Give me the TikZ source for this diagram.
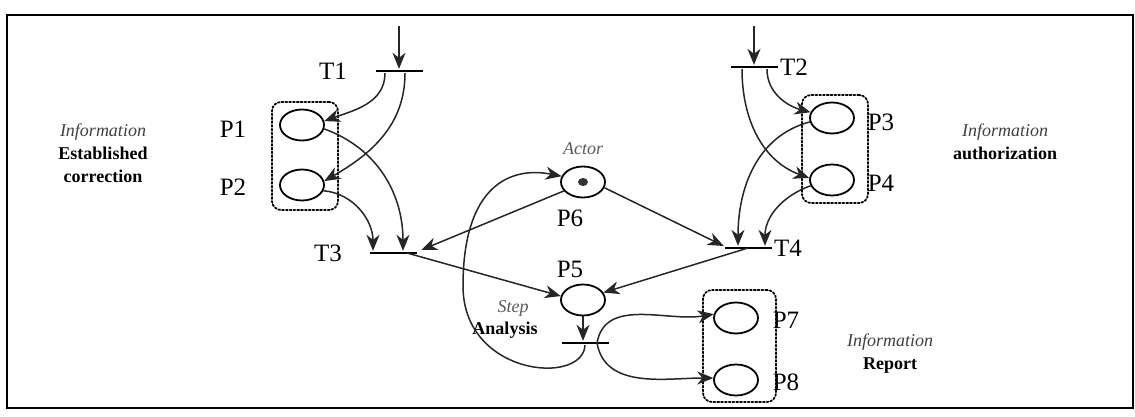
\documentclass[tikz,border=0pt]{standalone}
\usepackage{fontspec}
\setmainfont{Liberation Serif}
\usetikzlibrary{arrows.meta,shapes.geometric}

\begin{document}
\begin{tikzpicture}[x=1pt,y=1pt,line width=1.5pt]
  \tikzstyle{place}=[draw, ellipse, line width=1.8pt, minimum width=44pt, minimum height=31pt, inner sep=0pt]
  \tikzstyle{trans}=[fill, rectangle, minimum width=47pt, minimum height=2.8pt, inner sep=0pt]
  \tikzstyle{group}=[draw, dotted, line width=1.8pt, line cap=round, rounded corners=9pt, inner sep=0pt]
  \tikzstyle{lbl}=[font=\fontsize{25}{27}\selectfont, inner sep=1pt]
  \tikzstyle{note}=[font=\fontsize{18}{23}\selectfont, align=center, inner sep=1pt]
  \tikzstyle{arc}=[-{Stealth[length=16pt,width=13pt,inset=5pt]}, line width=1.5pt, draw=black!85]

  \useasboundingbox (0,0) rectangle (1135,416);
  \draw[line width=2pt] (7,8) rectangle (1133,401);

  % places
  \node[place] (p1) at (302,291) {};
  \node[place] (p2) at (302,231) {};
  \node[place] (p3) at (832,298) {};
  \node[place] (p4) at (832,236) {};
  \node[place] (p5) at (583,116) {};
  \node[place] (p6) at (583,234) {};
  \node[place] (p7) at (736,98) {};
  \node[place] (p8) at (736,36) {};
  \node[fill=black!80, ellipse, minimum width=10pt, minimum height=8pt, inner sep=0pt] (tok) at (p6) {};

  % transitions
  \node[trans] (t1) at (399,345) {};
  \node[trans] (t2) at (754,349) {};
  \node[trans] (t3) at (393,163) {};
  \node[trans] (t4) at (748,168) {};
  \node[trans] (t5) at (585,73) {};
  \coordinate (in1) at (399,390);
  \coordinate (in2) at (754,390);

  % dotted groups
  \node[group, minimum width=66pt, minimum height=108pt] (g12) at (305,260) {};
  \node[group, minimum width=66pt, minimum height=108pt] (g34) at (835,267) {};
  \node[group, minimum width=73pt, minimum height=112pt] (g78) at (739.5,70) {};

  % labels
  \node[lbl] (lt1) at (333,345) {T1};
  \node[lbl, anchor=west] (lt2) at (t2.east) {T2};
  \node[lbl] (lt3) at (328,163) {T3};
  \node[lbl, anchor=west] (lt4) at (t4.east) {T4};
  \node[lbl] (lp1) at (233,287) {P1};
  \node[lbl] (lp2) at (233,229) {P2};
  \node[lbl] (lp3) at (881,294) {P3};
  \node[lbl] (lp4) at (881,233) {P4};
  \node[lbl] (lp5) at (570,147) {P5};
  \node[lbl] (lp6) at (570,198) {P6};
  \node[lbl] (lp7) at (786,96) {P7};
  \node[lbl] (lp8) at (786,34) {P8};

  \node[note, text=black!65] (actor) at (583,267) {\itshape Actor};
  \node[note, text=black!65] (step) at (513,108) {\itshape Step};
  \node[note] (analysis) at (505,86) {\bfseries Analysis};
  \node[note] (info1) at (103,263) {{\color{black!75}\itshape Information}\\ \bfseries Established\\ \bfseries correction};
  \node[note] (info2) at (1005,274) {{\color{black!75}\itshape Information}\\ \bfseries authorization};
  \node[note] (info3) at (890,62) {{\color{black!75}\itshape Information}\\ \bfseries Report};

  % arcs
  \draw[arc] (in1) -- (t1);
  \draw[arc] ([xshift=-14pt]t1.south) to[out=-90, in=20] (p1.10);
  \draw[arc] ([xshift=6pt]t1.south) to[out=-90, in=30] (p2.10);
  \draw[arc] (p1.-10) to[out=-20, in=90] ([xshift=10pt]t3.north);
  \draw[arc] (p2.-15) to[out=-5, in=90] ([xshift=-20pt]t3.north);
  \draw[arc] (p6.205) -- ([xshift=4pt,yshift=3pt]t3.east);
  \draw[arc] ([xshift=14pt]t3.center) -- (p5.170);

  \draw[arc] (in2) -- (t2);
  \draw[arc] ([xshift=13pt]t2.south) to[out=-90, in=165] (p3.165);
  \draw[arc] ([xshift=-12pt]t2.south) to[out=-90, in=160] (p4.175);
  \draw[arc] (p3.190) to[out=195, in=90] ([xshift=-10pt]t4.north);
  \draw[arc] (p4.195) to[out=200, in=90] ([xshift=17pt]t4.north);
  \draw[arc] (p6.-15) -- ([yshift=2pt]t4.west);
  \draw[arc] (t4.center) -- (p5.20);

  \draw[arc] (p5.south) -- (p5.south |- t5.north);
  \draw[arc] ([xshift=12pt]t5.center) to[out=80, in=190] (p7.170);
  \draw[arc] ([xshift=12pt]t5.center) to[out=-80, in=180] (p8.175);
  \draw[arc] (t5.south) .. controls (583,30) and (463,40) .. (463,130)
    .. controls (463,230) and (510,250) .. (p6.165);
\end{tikzpicture}
\end{document}
